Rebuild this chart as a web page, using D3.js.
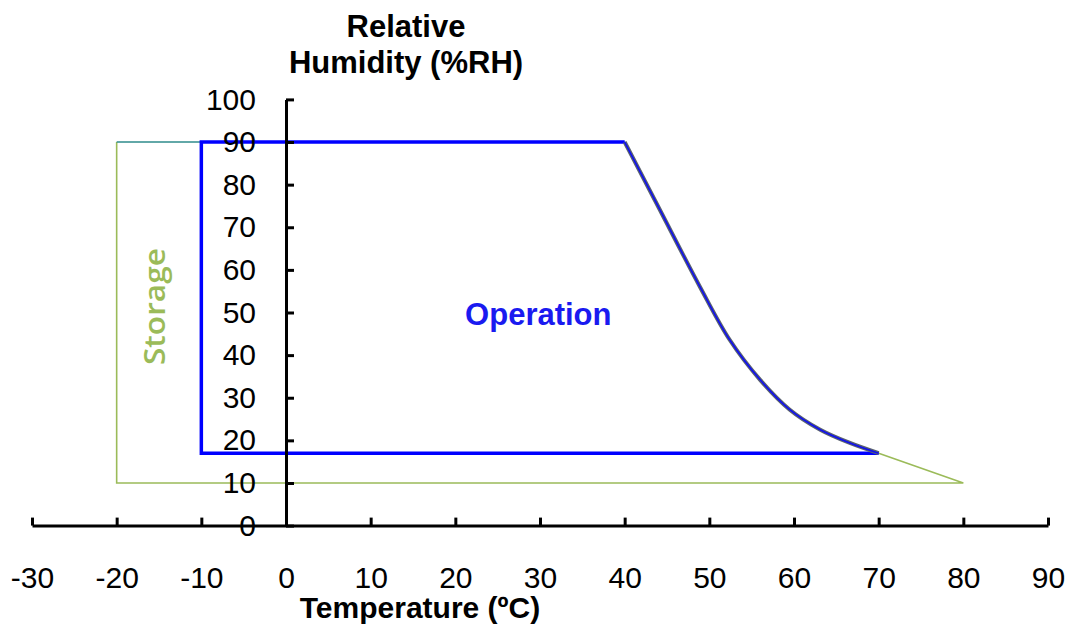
<!DOCTYPE html>
<html><head><meta charset="utf-8">
<script src="https://cdn.jsdelivr.net/npm/d3@7"></script>
<style>
html,body{margin:0;padding:0;background:#fff;}
svg{display:block;}
text{font-family:"Liberation Sans",Arial,sans-serif;}
</style></head>
<body>
<svg id="chart" width="1072" height="626"></svg>
<script>
// ---- data ----
const xTicks = [-30,-20,-10,0,10,20,30,40,50,60,70,80,90];
const yTicks = [0,10,20,30,40,50,60,70,80,90,100];
const xTitle = "Temperature (ºC)";
const yTitleLines = ["Relative","Humidity (%RH)"];
// Operation envelope corners
const operationT  = [70, -10, -10, 40];
const operationRH = [17,  17,  90, 90];
// Operation upper limit curve (40 °C / 90 %RH down to 70 °C / 17 %RH)
const curveT  = [40, 44,   48.9, 52.4, 56.0, 59.5, 63.1, 66.6, 70];
const curveRH = [90, 74.7, 56,   43.6, 34.2, 27.2, 22.5, 19.4, 17];
// Storage envelope
const storageT  = [-20, -20, 80, 70];
const storageRH = [ 90,  10, 10, 17];
const storageTopT  = [-20, 40];
const storageTopRH = [ 90, 90];
const labels = [{text:"Operation", t:29.8, rh:49.6}, {text:"Storage", t:-15.5, rh:51.4}];

// ---- drawing ----
const svg = d3.select("#chart");
const x = d3.scaleLinear().domain([-30,90]).range([32,1048]);
const y = d3.scaleLinear().domain([0,100]).range([525.6,99.4]);
const FS = 30;

const line = d3.line().x(d=>x(d[0])).y(d=>y(d[1]));
const smooth = d3.line().x(d=>x(d[0])).y(d=>y(d[1])).curve(d3.curveCatmullRom.alpha(0.5));

// storage
svg.append("path").attr("d", line(storageT.map((t,i)=>[t,storageRH[i]])))
  .attr("fill","none").attr("stroke","#9BBB59").attr("stroke-width",1.6);
svg.append("path").attr("d", line(storageTopT.map((t,i)=>[t,storageTopRH[i]])))
  .attr("fill","none").attr("stroke","#2E8B8B").attr("stroke-width",1.6);

// operation straight parts
const opPts = operationT.map((t,i)=>[t,operationRH[i]]);
svg.append("path").attr("d", line(opPts))
  .attr("fill","none").attr("stroke","#0000FF").attr("stroke-width",3.5).attr("stroke-linejoin","miter");
// curve: grey outline + blue core
const cPts = curveT.map((t,i)=>[t,curveRH[i]]);
svg.append("path").attr("d", smooth(cPts)).attr("fill","none").attr("stroke","#5a6270").attr("stroke-width",4);
svg.append("path").attr("d", smooth(cPts)).attr("fill","none").attr("stroke","#1010F0").attr("stroke-width",1.6);

// axes
const fmt = d => String(d);
const xAxis = d3.axisBottom(x).tickValues(xTicks).tickSizeInner(-8).tickSizeOuter(0).tickPadding(41).tickFormat(fmt);
const gx = svg.append("g").attr("transform",`translate(0,${y(0)})`).call(xAxis);
const yAxis = d3.axisLeft(y).tickValues(yTicks).tickSizeInner(-8).tickSizeOuter(0).tickPadding(30).tickFormat(fmt);
const gy = svg.append("g").attr("transform",`translate(${x(0)},0)`).call(yAxis);
[gx,gy].forEach(g=>{
  g.selectAll("path.domain").attr("stroke","#000").attr("stroke-width",3);
  g.selectAll(".tick line").attr("stroke","#000").attr("stroke-width",3);
  g.selectAll(".tick text").attr("fill","#000").style("font-size",FS+"px").style("font-family","'Liberation Sans',Arial,sans-serif");
});

// titles
svg.append("text").attr("x",420).attr("y",618).attr("text-anchor","middle")
  .style("font-size","30px").style("font-weight","bold").text(xTitle);
yTitleLines.forEach((s,i)=>{
  svg.append("text").attr("x",406).attr("y",37+i*36).attr("text-anchor","middle")
    .style("font-size","31px").style("font-weight","bold").text(s);
});

// region labels
svg.append("text").attr("x",x(labels[0].t)).attr("y",y(labels[0].rh)).attr("dy","0.35em")
  .attr("text-anchor","middle").style("font-size","31px").style("font-weight","bold")
  .attr("fill","#1a1aF0").text(labels[0].text);
svg.append("text").attr("transform",`translate(${x(labels[1].t)},${y(labels[1].rh)}) rotate(-90)`)
  .attr("dy","0.35em").attr("text-anchor","middle")
  .attr("textLength",117).attr("lengthAdjust","spacingAndGlyphs")
  .style("font-family","'Open Sans',sans-serif").style("font-size","29px").style("font-weight","600")
  .attr("fill","#9BBB59").text(labels[1].text);
</script>
</body></html>
